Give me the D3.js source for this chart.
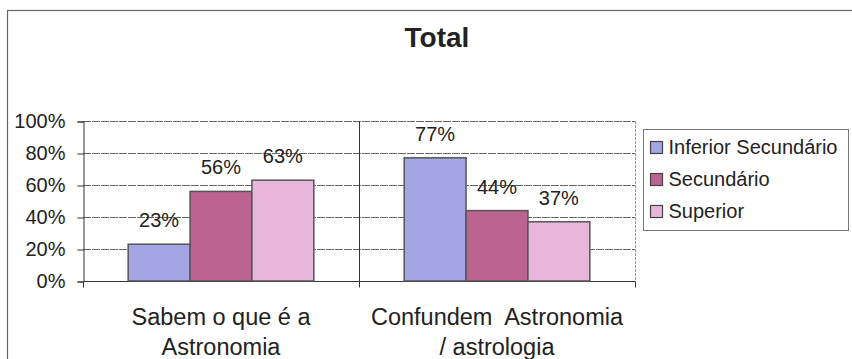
<!DOCTYPE html>
<html><head><meta charset="utf-8">
<script src="https://cdn.jsdelivr.net/npm/d3@7"></script>
<style>body{margin:0;background:#fff}svg{display:block}text{font-family:Arial,"Liberation Sans",sans-serif;fill:#222}</style>
</head><body><svg id="c" width="852" height="359"></svg>
<script>
const title = "Total";
const categories = [["Sabem o que é a","Astronomia"],["Confundem  Astronomia","/ astrologia"]];
const series = ["Inferior Secundário","Secundário","Superior"];
const values = [[23,56,63],[77,44,37]];
const colors = ["#a3a6e2","#bb6391","#e8b6da"];
const yTicks = [0,20,40,60,80,100];

const svg = d3.select("#c");
const m = {l:83, r:635, t:121, b:281};
// outer frame
svg.append("rect").attr("x",7.5).attr("y",10.5).attr("width",870).attr("height",400)
  .attr("fill","none").attr("stroke","#666").attr("stroke-width",1.2);
svg.append("text").attr("x",437).attr("y",47).attr("text-anchor","middle")
  .style("font-size","28px").style("font-weight","bold").text(title);

const x0 = d3.scaleBand().domain(d3.range(categories.length)).range([m.l,m.r]).paddingInner(0).paddingOuter(0);
const x1 = d3.scaleBand().domain(d3.range(series.length)).range([0,x0.bandwidth()]).paddingOuter(0.73).paddingInner(0);
const y = d3.scaleLinear().domain([0,100]).range([m.b,m.t]);

// gridlines
svg.append("g").selectAll("line").data(yTicks.filter(d=>d>0)).join("line")
  .attr("x1",m.l).attr("x2",m.r).attr("y1",d=>y(d)+0.5).attr("y2",d=>y(d)+0.5)
  .attr("stroke","#666").attr("stroke-width",1).attr("stroke-dasharray","8,1");
// right border
svg.append("line").attr("x1",m.r+0.5).attr("x2",m.r+0.5).attr("y1",m.t).attr("y2",m.b)
  .attr("stroke","#999").attr("stroke-dasharray","3,1");

// y axis
const ya = svg.append("g").attr("transform",`translate(${m.l+0.5},0.5)`)
  .call(d3.axisLeft(y).tickValues(yTicks).tickFormat(d=>d+"%").tickSize(6).tickPadding(12));
ya.select(".domain").attr("stroke","#333");
ya.selectAll(".tick line").attr("stroke","#333");
ya.selectAll("text").style("font-size","20px").attr("fill","#222");

// x axis
const xa = svg.append("g").attr("transform",`translate(0.5,${m.b+0.5})`);
xa.append("line").attr("x1",m.l).attr("x2",m.r).attr("stroke","#333");
xa.selectAll("line.t").data(d3.range(categories.length+1)).join("line").attr("class","t")
  .attr("x1",i=>m.l+i*x0.bandwidth()).attr("x2",i=>m.l+i*x0.bandwidth())
  .attr("y1",0).attr("y2",6).attr("stroke","#333");
// category divider inside plot
svg.selectAll("line.div").data(d3.range(1,categories.length)).join("line").attr("class","div")
  .attr("x1",i=>m.l+i*x0.bandwidth()+0.5).attr("x2",i=>m.l+i*x0.bandwidth()+0.5)
  .attr("y1",m.t).attr("y2",m.b).attr("stroke","#333");

categories.forEach((lines,ci)=>{
  const cx = x0(ci)+x0.bandwidth()/2;
  lines.forEach((ln,li)=>{
    svg.append("text").attr("x",cx).attr("y",325+li*30).attr("text-anchor","middle")
      .attr("xml:space","preserve").style("white-space","pre")
      .style("font-size","23.5px").text(ln);
  });
});

// bars
values.forEach((vals,ci)=>{
  const g = svg.append("g").attr("transform",`translate(${x0(ci)},0)`);
  g.selectAll("rect").data(vals).join("rect")
    .attr("x",(d,i)=>x1(i)).attr("y",d=>y(d)).attr("width",x1.bandwidth()).attr("height",d=>m.b-y(d))
    .attr("fill",(d,i)=>colors[i]).attr("stroke","#555").attr("stroke-width",1.5);
  g.selectAll("text").data(vals).join("text")
    .attr("x",(d,i)=>x1(i)+x1.bandwidth()/2).attr("y",d=>y(d)-17).attr("text-anchor","middle")
    .style("font-size","20px").text(d=>d+"%");
});

// legend
const lg = svg.append("g").attr("transform","translate(643.5,129.5)");
lg.append("rect").attr("width",205).attr("height",101).attr("fill","#fff").attr("stroke","#777");
series.forEach((s,i)=>{
  lg.append("rect").attr("x",7).attr("y",12+i*32).attr("width",12).attr("height",12)
    .attr("fill",colors[i]).attr("stroke","#444").attr("stroke-width",1.2);
  lg.append("text").attr("x",25).attr("y",24+i*32).style("font-size","20px").text(s);
});
</script></body></html>
